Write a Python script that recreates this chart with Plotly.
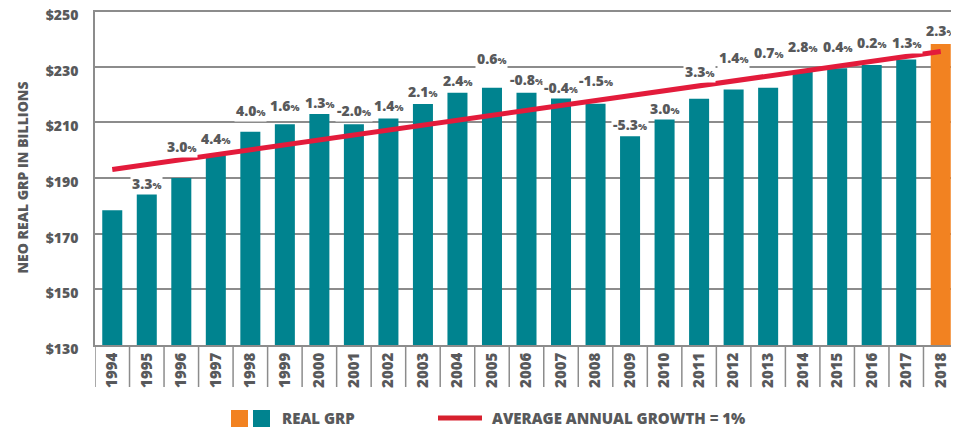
import plotly.graph_objects as go

years = [str(y) for y in range(1994, 2019)]
grp = [178.4, 185.2, 190.0, 198.2, 206.6, 209.3, 213.0, 209.3, 211.4, 216.6, 220.7,
       222.5, 220.7, 219.7, 216.7, 205.0, 211.4, 218.5, 221.8, 222.5, 228.6, 229.5,
       230.6, 232.6, 238.2]
growth_labels = ["", "3.3", "3.0", "4.4", "4.0", "1.6", "1.3", "-2.0", "1.4", "2.1", "2.4",
                 "0.6", "-0.8", "-0.4", "-1.5", "-5.3", "3.0", "3.3", "1.4", "0.7", "2.8",
                 "0.4", "0.2", "1.3", "2.3"]
label_pos = [None, 188.1, 201.3, 204.2, 214.2, 216.0, 217.1, 214.2, 216.0, 221.0, 225.0,
             232.9, 225.3, 222.5, 225.0, 209.2, 214.9, 228.2, 233.2, 235.0, 237.2,
             237.2, 238.6, 238.6, 242.9]
trend_start, trend_end = 193.1, 235.5
y_ticks = [130, 150, 170, 190, 210, 230, 250]
y_range = [130, 250.4]

TEAL = "#00838F"
ORANGE = "#F28221"
RED = "#E31B3B"
GRAY = "#58595B"
GRID = "#8C8C8C"
FONT = "Open Sans"
WT = 800

# page has an 8px body margin; work in page pixels and convert
OFF = 8
W, H = 959 - OFF, 429 - OFF
ML, MT = 95 - OFF, 10 - OFF
MB = H - (345 - OFF)
MR = W - (958 - OFF)
PW, PH = W - ML - MR, H - MT - MB


def px_x(px):
    return (px - OFF - ML) / PW


def px_y(py):
    return (H - MB - (py - OFF)) / PH


def f(size):
    return dict(family=FONT, size=size, color=GRAY, weight=WT)


colors = [TEAL] * (len(years) - 1) + [ORANGE]

fig = go.Figure()
fig.add_trace(go.Bar(x=years, y=grp, marker=dict(color=colors, line=dict(width=0)),
                     showlegend=False, hoverinfo="x+y"))
fig.add_trace(go.Scatter(x=[years[0], years[-1]], y=[trend_start, trend_end], mode="lines",
                         line=dict(color=RED, width=5), showlegend=False))

annotations = []
for i, (lab, pos) in enumerate(zip(growth_labels, label_pos)):
    if not lab:
        continue
    annotations.append(dict(
        x=i, y=pos, xref="x", yref="y", showarrow=False, yanchor="middle",
        text=lab + '<span style="font-size:9.5px">%</span>',
        font=f(14), bgcolor="white", borderpad=1))

# legend
annotations.append(dict(x=px_x(280), y=px_y(418), xref="paper", yref="paper", showarrow=False,
                        xanchor="left", yanchor="middle", text="REAL GRP", font=f(15)))
annotations.append(dict(x=px_x(490), y=px_y(418), xref="paper", yref="paper", showarrow=False,
                        xanchor="left", yanchor="middle", text="AVERAGE ANNUAL GROWTH = 1%",
                        font=f(15)))

shapes = []
for i in range(len(years) + 1):
    shapes.append(dict(type="line", xref="x", yref="paper", x0=i - 0.5, x1=i - 0.5,
                       y0=0, y1=px_y(387), line=dict(color=GRID, width=1.5)))
shapes.append(dict(type="rect", xref="paper", yref="paper", x0=px_x(231), x1=px_x(248),
                   y0=px_y(427), y1=px_y(410), fillcolor=ORANGE, line=dict(width=0)))
shapes.append(dict(type="rect", xref="paper", yref="paper", x0=px_x(253), x1=px_x(270),
                   y0=px_y(427), y1=px_y(410), fillcolor=TEAL, line=dict(width=0)))
shapes.append(dict(type="line", xref="paper", yref="paper", x0=px_x(438), x1=px_x(482),
                   y0=px_y(418), y1=px_y(418), line=dict(color="#D7202E", width=5)))

fig.update_layout(
    width=W, height=H,
    margin=dict(l=ML, r=MR, t=MT, b=MB, autoexpand=False),
    paper_bgcolor="white", plot_bgcolor="white",
    bargap=0.42,
    font=dict(family=FONT, color=GRAY),
    annotations=annotations, shapes=shapes,
    xaxis=dict(type="category", tickangle=-90, showgrid=False, ticks="", automargin=False,
               tickfont=f(15), showline=True, linecolor=GRID, linewidth=1.5,
               range=[-0.5, len(years) - 0.5]),
    yaxis=dict(range=y_range, tickvals=y_ticks, ticktext=[f"${v}" for v in y_ticks],
               showgrid=True, gridcolor=GRID, gridwidth=1.5, zeroline=False, automargin=False,
               showline=True, linecolor=GRID, linewidth=1.5, ticklabeloverflow="allow",
               ticklabelshift=4,
               ticks="outside", ticklen=12, tickcolor="rgba(0,0,0,0)",
               tickfont=f(14),
               title=dict(text="NEO REAL GRP IN BILLIONS", standoff=14, font=f(14))),
)

fig.write_html("out.html")
